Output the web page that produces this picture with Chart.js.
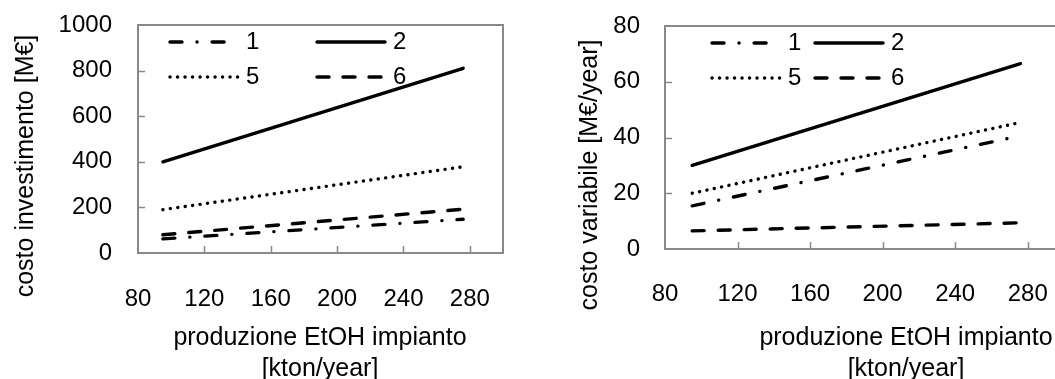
<!DOCTYPE html>
<html>
<head>
<meta charset="utf-8">
<script src="https://cdn.jsdelivr.net/npm/chart.js@4.4.1/dist/chart.umd.min.js"></script>
<style>
html, body { margin: 0; padding: 0; background: #fff; overflow: hidden; }
.box { position: absolute; top: 0; height: 379px; overflow: hidden; }
#leftBox { left: 0; width: 520px; }
#rightBox { left: 520px; width: 535px; }
canvas { display: block; }
</style>
</head>
<body>
<div class="box" id="leftBox"><canvas id="left" width="520" height="379"></canvas></div>
<div class="box" id="rightBox"><canvas id="right" width="560" height="379"></canvas></div>
<script>
// plant capacity, kton/year
const capacity = [95, 276];
const seriesNames = ['1', '2', '5', '6'];

// investment cost, M€
const invest1 = [62, 148];
const invest2 = [400, 810];
const invest5 = [190, 378];
const invest6 = [80, 192];

// variable cost, M€/year
const var1 = [15.5, 40.6];
const var2 = [30, 66.5];
const var5 = [20, 45.4];
const var6 = [6.5, 9.4];

const xTicks = { min: 80, max: 300, step: 40 };
const investTicks = { min: 0, max: 1000, step: 200 };
const varTicks = { min: 0, max: 80, step: 20 };

const xTitle = ['produzione EtOH impianto', '[kton/year]'];
const investTitle = 'costo investimento [M€]';
const varTitle = 'costo variabile [M€/year]';

const dashes = [[12, 15, 0.1, 15], [], [0.1, 7.4], [12, 14]];
const gray = '#898989';

Chart.defaults.font.family = '"Liberation Sans", Arial, sans-serif';
Chart.defaults.font.size = 24;
Chart.defaults.color = '#000';

function toPoints(ys) {
  return ys.map((y, i) => ({ x: capacity[i], y: y }));
}

function makeDatasets(list) {
  return list.map((ys, i) => ({
    label: seriesNames[i],
    data: toPoints(ys),
    borderColor: '#000',
    borderWidth: 3.4,
    borderDash: dashes[i],
    borderCapStyle: 'round',
    pointRadius: 0,
    fill: false
  }));
}

// fixed axis size, no extra room for label overflow
function fixSize(prop, val) {
  return s => {
    s[prop] = val;
    s.paddingLeft = s.paddingRight = s.paddingTop = s.paddingBottom = 0;
  };
}

// plot box plus inward tick marks
const framePlugin = {
  id: 'frame',
  beforeDatasetsDraw(chart) {
    const { ctx, chartArea: a, scales } = chart;
    ctx.save();
    ctx.strokeStyle = gray;
    ctx.lineWidth = 2;
    ctx.strokeRect(a.left, a.top, a.right - a.left, a.bottom - a.top);
    ctx.lineWidth = 1.5;
    ctx.beginPath();
    scales.x.ticks.forEach(t => {
      const px = Math.round(scales.x.getPixelForValue(t.value)) + 0.5;
      if (px <= a.left + 2 || px >= a.right - 2) return;
      ctx.moveTo(px, a.bottom);
      ctx.lineTo(px, a.bottom - 7);
    });
    scales.y.ticks.forEach(t => {
      const py = Math.round(scales.y.getPixelForValue(t.value)) + 0.5;
      if (py <= a.top + 2 || py >= a.bottom - 2) return;
      ctx.moveTo(a.left, py);
      ctx.lineTo(a.left + 7, py);
    });
    ctx.stroke();
    ctx.restore();
  }
};

// two-column legend inside the plot, like the spreadsheet one
const gridLegend = {
  id: 'gridLegend',
  afterDraw(chart, args, opts) {
    const ctx = chart.ctx;
    ctx.save();
    ctx.font = '24px "Liberation Sans", Arial, sans-serif';
    ctx.fillStyle = '#000';
    ctx.textBaseline = 'middle';
    ctx.textAlign = 'left';
    chart.data.datasets.forEach((ds, i) => {
      const col = i % 2, row = Math.floor(i / 2);
      const x = opts.x + col * opts.colWidth;
      const y = opts.rows[row];
      ctx.strokeStyle = ds.borderColor;
      ctx.lineWidth = ds.borderWidth;
      ctx.lineCap = 'round';
      ctx.setLineDash(ds.borderDash);
      ctx.beginPath();
      ctx.moveTo(x, y);
      ctx.lineTo(x + 68, y);
      ctx.stroke();
      ctx.fillText(ds.label, x + 76, y);
    });
    ctx.restore();
  }
};

// axis titles placed where the original has them
const axisTitles = {
  id: 'axisTitles',
  afterDraw(chart, args, opts) {
    const ctx = chart.ctx;
    ctx.save();
    ctx.font = '25px "Liberation Sans", Arial, sans-serif';
    ctx.fillStyle = '#000';
    ctx.textAlign = 'center';
    ctx.textBaseline = 'middle';
    opts.x.forEach((line, i) => ctx.fillText(line, opts.xCenter, opts.xRows[i]));
    ctx.translate(opts.yX, opts.yCenter);
    ctx.rotate(-Math.PI / 2);
    ctx.fillText(opts.y, 0, 0);
    ctx.restore();
  }
};

function makeChart(id, sets, yt, o) {
  return new Chart(document.getElementById(id), {
    type: 'line',
    data: { datasets: makeDatasets(sets) },
    plugins: [framePlugin, gridLegend, axisTitles],
    options: {
      responsive: false,
      animation: false,
      devicePixelRatio: 1,
      layout: { padding: { top: o.top, right: o.right, left: 0, bottom: 0 } },
      scales: {
        x: {
          type: 'linear',
          min: xTicks.min, max: xTicks.max,
          ticks: { stepSize: xTicks.step, includeBounds: false, padding: o.xPad, maxRotation: 0, autoSkip: false,
                   callback: v => String(v) },
          grid: { display: false, drawTicks: false },
          border: { display: false },
          afterFit: fixSize('height', o.xHeight)
        },
        y: {
          min: yt.min, max: yt.max,
          ticks: { stepSize: yt.step, padding: o.yPad, callback: v => String(v) },
          grid: { display: false, drawTicks: false },
          border: { display: false },
          afterFit: fixSize('width', o.yWidth)
        }
      },
      plugins: {
        legend: { display: false },
        tooltip: { enabled: false },
        gridLegend: o.legend,
        axisTitles: o.titles
      }
    }
  });
}

makeChart('left', [invest1, invest2, invest5, invest6], investTicks, {
  top: 25, right: 17, xHeight: 126, yWidth: 138, xPad: 32, yPad: 26,
  legend: { x: 170, colWidth: 147, rows: [42, 77] },
  titles: { x: xTitle, xCenter: 320, xRows: [338, 369], y: investTitle, yX: 26, yCenter: 166 }
});

makeChart('right', [var1, var2, var5, var6], varTicks, {
  top: 26, right: 16, xHeight: 130, yWidth: 145, xPad: 31, yPad: 25,
  legend: { x: 192, colWidth: 103, rows: [43, 78] },
  titles: { x: xTitle, xCenter: 386, xRows: [338, 369], y: varTitle, yX: 70, yCenter: 175 }
});
</script>
</body>
</html>
